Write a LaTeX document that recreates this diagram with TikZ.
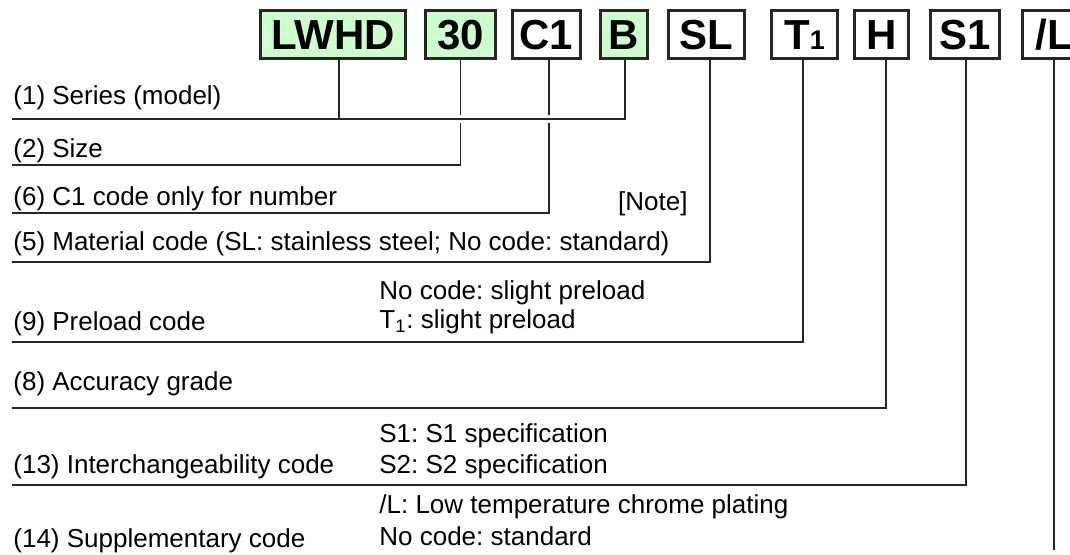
\documentclass[tikz,border=0pt]{standalone}
\usepackage{fontspec}
\setmainfont{Liberation Sans}
\definecolor{codegreen}{HTML}{CCFFCC}
\frenchspacing
\begin{document}
\begin{tikzpicture}[
  x=0.5pt, y=-0.5pt,
  code/.style={
    draw=black!85, line width=1.5pt,
    minimum height=24pt, inner sep=0pt,
    text height=15pt, text depth=0pt,
    font=\fontsize{21}{21}\selectfont\bfseries
  },
  lbl/.style={anchor=base west, inner sep=0pt, font=\fontsize{13}{15}\selectfont},
  lead/.style={line width=0.9pt, black!85},
  gap/.style={lead, preaction={draw=white, line width=4pt}}
]
\clip (0,0) rectangle (1070,554);

% --- Code boxes (top) ---
\foreach \n/\t/\x/\w/\f in
  {lwhd/LWHD/333/148/codegreen, size/30/460.5/73/codegreen,
   cls/C1/546.5/71/white, blk/B/624/50/codegreen,
   mat/SL/706.5/79/white, pre/{T{\fontsize{13.5}{13.5}\selectfont 1}}/804.5/69/white,
   acc/H/881.5/57/white, ich/S1/965/72/white, sup/{/L}/1054/66/white}
{
  \node[code, fill=\f, minimum width={(\w-3)*0.5pt}] (\n) at (\x,34.5) {\t};
}

% --- Row lines ---
\coordinate (r1) at (12,119);
\coordinate (r2) at (12,165);
\coordinate (r6) at (12,213);
\coordinate (r5) at (12,262);
\coordinate (r9) at (12,342);
\coordinate (r8) at (12,408);
\coordinate (r13) at (12,485);
\coordinate (supend) at (1054,550);

% --- Labels ---
\node[lbl] (t1) at (13,104) {(1) Series (model)};
\node[lbl] (t2) at (13,157) {(2) Size};
\node[lbl] (t6) at (13,205) {(6) C1 code only for number};
\node[lbl, anchor=base east] (note) at (688,210) {[Note]};
\node[lbl] (t5) at (13,250) {(5) Material code (SL: stainless steel; No code: standard)};
\node[lbl] (t9) at (13,330) {(9) Preload code};
\node[lbl] (t9a) at (379,299) {No code: slight preload};
\node[lbl] (t9b) at (379,328) {T\textsubscript{1}: slight preload};
\node[lbl] (t8) at (13,390) {(8) Accuracy grade};
\node[lbl] (t13) at (13,473) {(13) Interchangeability code};
\node[lbl] (t13a) at (379,442) {S1: S1 specification};
\node[lbl] (t13b) at (379,473) {S2: S2 specification};
\node[lbl] (t14) at (13,547) {(14) Supplementary code};
\node[lbl] (t14a) at (379,513) {/L: Low temperature chrome plating};
\node[lbl] (t14b) at (379,545) {No code: standard};

% --- Leader lines ---
\foreach \n/\r/\dx in
  {size/r2/0, cls/r6/1.25, mat/r5/1.75, pre/r9/-0.75,
   acc/r8/2.25, ich/r13/0.5}
{
  \draw[lead] ([xshift=\dx pt]\n.south) |- (\r);
}
\draw[gap] ([xshift=0.5pt]blk.south) |- (r1);
\coordinate (lwhdfoot) at ([xshift=3pt]lwhd.south);
\draw[lead] (lwhdfoot) -- (lwhdfoot |- r1);
\draw[lead] (sup.south) -- (supend);

\end{tikzpicture}
\end{document}
